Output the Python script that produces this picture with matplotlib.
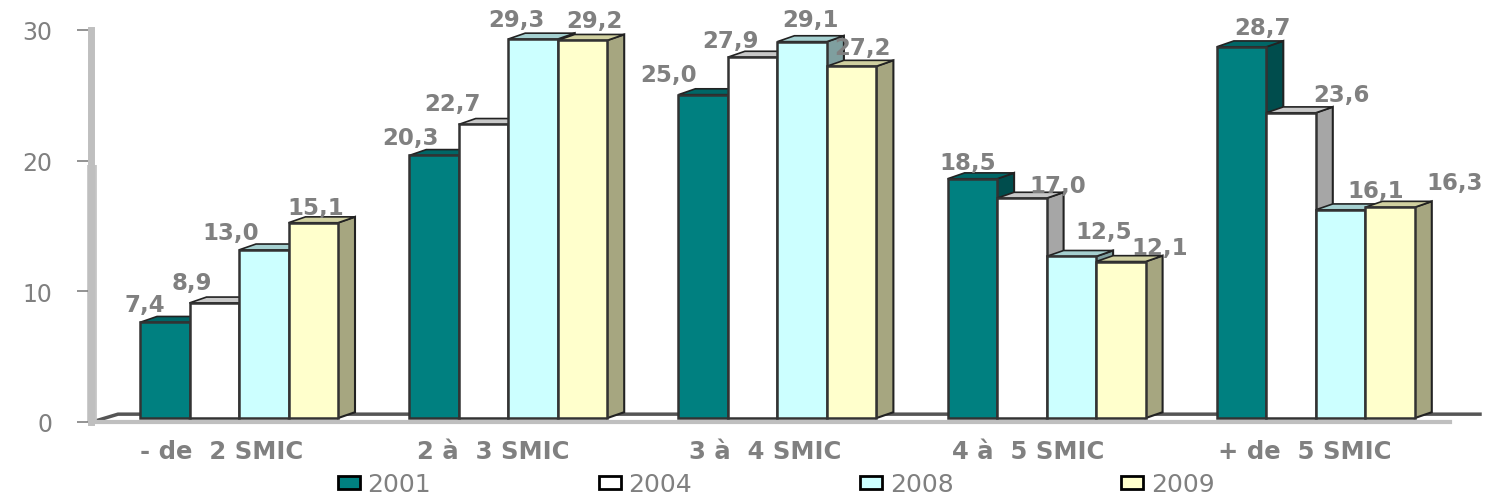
import matplotlib
matplotlib.use('Agg')
import matplotlib.pyplot as plt
from matplotlib.patches import Polygon, Patch

categories = ['- de  2 SMIC', '2 à  3 SMIC', '3 à  4 SMIC', '4 à  5 SMIC', '+ de  5 SMIC']
years = ['2001', '2004', '2008', '2009']
v2001 = [7.4, 20.3, 25.0, 18.5, 28.7]
v2004 = [8.9, 22.7, 27.9, 17.0, 23.6]
v2008 = [13.0, 29.3, 29.1, 12.5, 16.1]
v2009 = [15.1, 29.2, 27.2, 12.1, 16.3]
yticks = [0, 10, 20, 30]

front = ['#008080', '#ffffff', '#ccffff', '#ffffcc']
side = ['#004d4d', '#a6a6a6', '#7f9f9f', '#a6a680']
top = ['#006666', '#c8c8c8', '#a5d0d0', '#d0d0a0']
gray = '#808080'

# label offsets in pixels from the top centre of each bar (the original is hand placed)
off2001 = [(-20, 18), (-23, 18), (-35, 20), (-5, 16), (21, 19)]
off2004 = [(-22, 20), (-31, 21), (-22, 17), (36, 13), (50, 18)]
off2008 = [(-33, 17), (-17, 20), (8, 22), (32, 25), (35, 19)]
off2009 = [(3, 15), (12, 20), (11, 19), (39, 14), (65, 25)]
label_px = [222, 493, 765, 1028, 1305]

W, H = 1494, 502
PX_GROUP = 269.2      # pixels between groups
X0 = 239              # pixel of first group centre
width = 49.5 / PX_GROUP
dx = 17 / PX_GROUP    # fake 3d depth
dy = 0.45
base = 0.3
k = 0.99


def fmt(v):
    return f'{v:.1f}'.replace('.', ',')


def px(x):
    return (x - X0) / PX_GROUP


fig = plt.figure(figsize=(W / 100, H / 100), dpi=100, facecolor='white')
ax = fig.add_axes([91 / W, (H - 423) / H, (1450 - 91) / W, (423 - 31) / H])
ax.set_xlim(px(91), px(1450))
ax.set_ylim(0, 30)

# floor of the 3d box
ax.plot([px(92), px(118), px(1480)], [0, 0.6, 0.6], color='#555555', lw=2.5,
        clip_on=False, zorder=1)
# wall is thicker on the lower part
ax.plot([px(92), px(92)], [0, 19.7], color='#c4c4c4', lw=7, solid_capstyle='butt',
        clip_on=False, zorder=1)

series = [v2001, v2004, v2008, v2009]
offsets = [off2001, off2004, off2008, off2009]
for j, vals in enumerate(series):
    for i, v in enumerate(vals):
        xl = i + (j - 2) * width
        xr = xl + width
        yt = base + v * k
        ax.add_patch(Polygon([(xr, base), (xr + dx, base + dy), (xr + dx, yt + dy), (xr, yt)],
                             fc=side[j], ec='#222222', lw=1.5, zorder=2 + j, clip_on=False))
        ax.add_patch(Polygon([(xl, yt), (xl + dx, yt + dy), (xr + dx, yt + dy), (xr, yt)],
                             fc=top[j], ec='#222222', lw=1.2, zorder=2 + j, clip_on=False))
        ax.bar(xl + width / 2, v * k, width, bottom=base, color=front[j], edgecolor='#333333',
               linewidth=1.8, zorder=3 + j, clip_on=False)
        ax.annotate(fmt(v), (xl + width / 2, yt), xytext=offsets[j][i], textcoords='offset pixels',
                    ha='center', va='center', color=gray, fontsize=16.5, fontweight='bold',
                    family='DejaVu Sans', annotation_clip=False, zorder=10)

for s in ['top', 'right']:
    ax.spines[s].set_visible(False)
ax.spines['left'].set_color('#bfbfbf')
ax.spines['left'].set_linewidth(5)
ax.spines['bottom'].set_color('#bfbfbf')
ax.spines['bottom'].set_linewidth(3)
ax.spines['bottom'].set_zorder(9)

ax.set_yticks(yticks)
ax.tick_params(axis='y', length=10, width=1.2, color=gray, labelcolor=gray, labelsize=17, pad=18)
ax.set_xticks([px(p) for p in label_px])
ax.set_xticklabels(categories, fontweight='bold', fontsize=17.5, color=gray)
ax.tick_params(axis='x', length=0, pad=12)

handles = [Patch(fc=front[j], ec='black', lw=2) for j in range(4)]
leg = fig.legend(handles, years, ncol=4, loc='lower left', bbox_to_anchor=(320 / W, -13 / H),
                 frameon=False, fontsize=18, labelcolor=gray, handlelength=0.88, handleheight=0.4,
                 handletextpad=0.32, columnspacing=6.7, borderpad=0.2)

fig.savefig('out.png', dpi=100)
